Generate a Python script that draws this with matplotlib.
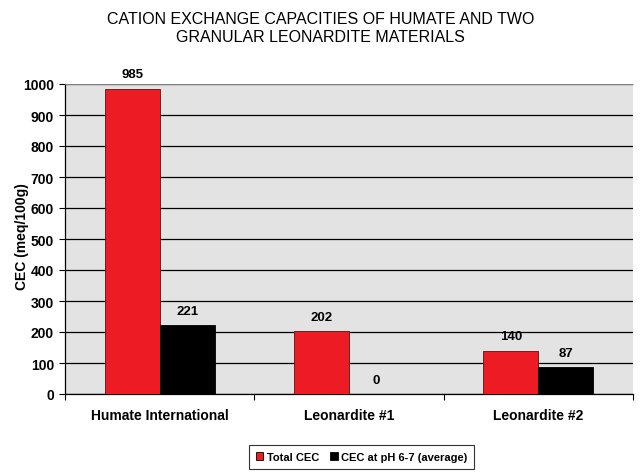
"""Cation exchange capacities of humate and two granular leonardite materials."""

import matplotlib.pyplot as plt
import numpy as np
from matplotlib.patches import Patch

categories = ["Humate International", "Leonardite #1", "Leonardite #2"]
total_cec = [985, 202, 140]
cec_ph67 = [221, 0, 87]
series_names = ["Total CEC", "CEC at pH 6-7 (average)"]
y_ticks = list(range(0, 1001, 100))

RED = "#ed1c24"
BLACK = "#000000"
PLOT_BG = "#e3e3e4"

plt.rcParams["font.family"] = ["Liberation Sans", "DejaVu Sans"]

fig = plt.figure(figsize=(6.41, 4.77), dpi=100)
ax = fig.add_axes([65 / 641, 82 / 477, 568 / 641, 310 / 477])
ax.set_facecolor(PLOT_BG)

x = np.arange(len(categories))
width = 0.29
bars_total = ax.bar(x - width / 2, total_cec, width, color=RED,
                    edgecolor="#5a1010", linewidth=0.6, zorder=3)
bars_ph = ax.bar(x + width / 2, cec_ph67, width, color=BLACK,
                 edgecolor=BLACK, linewidth=0.6, zorder=3)

for bars, vals in ((bars_total, total_cec), (bars_ph, cec_ph67)):
    for b, v in zip(bars, vals):
        ax.annotate(f"{v}", (b.get_x() + b.get_width() / 2, v),
                    xytext=(0, 6), textcoords="offset points",
                    ha="center", va="bottom", fontsize=9.5, fontweight="bold")

ax.set_ylim(0, 1000)
ax.set_xlim(-0.5, len(categories) - 0.5)
ax.set_yticks(y_ticks)
ax.set_yticklabels([str(t) for t in y_ticks], fontsize=10, fontweight="bold")
ax.yaxis.grid(True, color="black", linewidth=0.9, zorder=1)
ax.set_axisbelow(True)

# category boundaries carry the ticks, labels sit in the middle
ax.set_xticks(np.arange(len(categories) + 1) - 0.5)
ax.set_xticklabels([])
ax.set_xticks(x, minor=True)
ax.set_xticklabels(categories, minor=True, fontsize=10, fontweight="bold",
                   family=["Liberation Sans Narrow", "Liberation Sans", "DejaVu Sans"])
ax.tick_params(axis="x", which="minor", length=0, pad=10)
ax.tick_params(axis="x", which="major", length=4, color="black")
ax.tick_params(axis="y", length=4, pad=4)

ax.spines["right"].set_visible(False)
ax.spines["top"].set_color("#9a9a9a")
ax.spines["top"].set_linewidth(0.6)
ax.spines["left"].set_linewidth(0.9)
ax.spines["bottom"].set_linewidth(0.9)

fig.text(22 / 641, 0.5 + 2 / 477, "CEC (meq/100g)", rotation=90, ha="center", va="center",
         fontsize=10, fontweight="bold")

fig.text(0.5, 0.975, "CATION EXCHANGE CAPACITIES OF HUMATE AND TWO\nGRANULAR LEONARDITE MATERIALS",
         ha="center", va="top", fontsize=11.5, linespacing=1.25)

handles = [Patch(facecolor=RED, edgecolor="black", linewidth=0.6),
           Patch(facecolor=BLACK, edgecolor="black", linewidth=0.6)]
leg = fig.legend(handles, series_names, loc="center", bbox_to_anchor=(361.5 / 641, 1 - 458 / 477),
                 ncol=2, frameon=True, fancybox=False, edgecolor="black",
                 prop={"weight": "bold", "size": 8}, handlelength=0.7, handleheight=0.7,
                 handletextpad=0.3, columnspacing=1.0, borderpad=0.6, borderaxespad=0)
leg.get_frame().set_linewidth(0.8)

fig.savefig("out.png", dpi=100)
